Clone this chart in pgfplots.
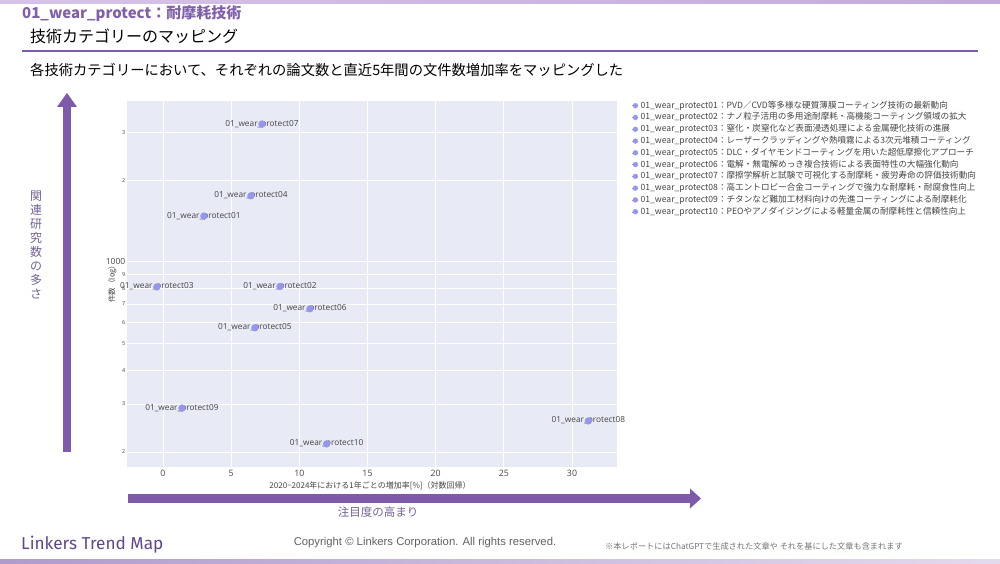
\documentclass[border=0pt]{standalone}
\usepackage{pgfplots}
\pgfplotsset{compat=1.18}
\usepackage{pgfplotstable}
\usepackage{fontspec}
\setmainfont{Noto Sans CJK JP}
\newfontfamily\os{Open Sans}
\newfontfamily\lib{Liberation Sans}
\newfontfamily\fira{Fira Sans}
\definecolor{purp}{RGB}{125,90,170}
\definecolor{titlepurp}{RGB}{128,96,168}
\definecolor{softpurp}{RGB}{115,98,150}
\definecolor{plotbg}{RGB}{232,234,246}
\definecolor{mk}{RGB}{150,150,238}
\definecolor{txt}{RGB}{68,68,68}
\definecolor{foot}{RGB}{95,70,140}

% x: growth rate [%], y: number of documents (log)
\pgfplotstableread{
x y label
3.0 1475 01\_wear\_protect01
8.58 812 01\_wear\_protect02
-0.45 809 01\_wear\_protect03
6.45 1750 01\_wear\_protect04
6.74 572 01\_wear\_protect05
10.78 672 01\_wear\_protect06
7.26 3215 01\_wear\_protect07
31.2 260 01\_wear\_protect08
1.39 290 01\_wear\_protect09
12.0 214 01\_wear\_protect10
}\pts

\begin{document}
\begin{tikzpicture}[x=1pt,y=1pt]
\useasboundingbox (0,0) rectangle (1000,563);

% slide frame
\shade[left color={rgb,255:red,215;green,195;blue,232}, right color={rgb,255:red,195;green,170;blue,220}] (0,559.5) rectangle (1000,563);
\shade[left color={rgb,255:red,175;green,155;blue,205}, right color={rgb,255:red,228;green,218;blue,238}] (0,0) rectangle (1000,4);
\node[anchor=west, inner sep=0pt, text=titlepurp, font=\fontsize{15}{16}\selectfont\bfseries] at (22,549.5) {01\_wear\_protect：耐摩耗技術};
\node[anchor=west, inner sep=0pt, font=\fontsize{16}{18}\selectfont] at (30,527) {技術カテゴリーのマッピング};
\draw[purp, line width=1.5pt] (22,512) -- (978,512);
\node[anchor=west, inner sep=0pt, font=\fontsize{14.3}{16}\selectfont] at (30,493) {各技術カテゴリーにおいて、それぞれの論文数と直近5年間の文件数増加率をマッピングした};

% arrows
\fill[purp] (63,111) rectangle (71,457);
\fill[purp] (57,456) -- (77,456) -- (67,470) -- cycle;
\fill[purp] (128,60) rectangle (691,69);
\fill[purp] (690,54.5) -- (690,74.5) -- (701,64.5) -- cycle;
\node[align=center, text=softpurp, font=\fontsize{12}{14}\selectfont] at (36,318) {関\\連\\研\\究\\数\\の\\多\\さ};
\node[text=softpurp, font=\fontsize{11.5}{13}\selectfont] at (378,51) {注目度の高まり};

% footer
\node[anchor=west, inner sep=0pt, text=foot, font=\fira\fontsize{17.2}{18}\selectfont] at (21,18) {Linkers Trend Map};
\node[inner sep=0pt, text=black!62, font=\lib\fontsize{11.3}{12}\selectfont] at (425,20) {Copyright © Linkers Corporation. All rights reserved.};
\node[anchor=west, inner sep=0pt, text=black!55, font=\fontsize{8.2}{9}\selectfont] at (605,17) {※本レポートにはChatGPTで生成された文章や それを基にした文章も含まれます};

\begin{axis}[
    at={(127pt,96pt)}, anchor=south west,
    width=490pt, height=366pt, scale only axis,
    xmin=-2.64, xmax=33.3,
    ymode=log, ymin=176, ymax=3908,
    axis background/.style={fill=plotbg},
    axis line style={draw=none},
    major tick length=0pt,
    grid=major, grid style={white, line width=0.8pt},
    xtick={0,5,...,30},
    ytick={200,300,400,500,600,700,800,900,1000,2000,3000},
    yticklabels={2,3,4,5,6,7,8,9,{\fontsize{8.5}{9}\selectfont 1000},2,3},
    /pgf/number format/assume math mode=true,
    xticklabel style={font=\os\fontsize{8.8}{9}\selectfont, text=txt},
    yticklabel style={font=\os\fontsize{5.5}{6}\selectfont, text=txt, inner sep=1.5pt},
    xlabel={2020−2024年における1年ごとの増加率[\%]（対数回帰）},
    xlabel style={at={(axis description cs:0.496,-0.052)}, anchor=center, font=\fontsize{8}{9}\selectfont, text=txt},
    ylabel={件数（log）},
    ylabel style={at={(axis description cs:-0.03,0.505)}, anchor=center, font=\fontsize{7.5}{8}\selectfont, text=txt},
    clip=false,
    legend style={at={(1.0306,1.0)}, anchor=north west, draw=none, fill=none,
        inner sep=0pt, row sep=2.78pt, column sep=2pt,
        font=\fontsize{8.6}{9}\selectfont, text=txt,
        nodes={text height=7pt, text depth=2pt, inner sep=0pt, anchor=west}},
    legend cell align=left,
    legend image code/.code={\path (-3pt,0pt) -- (3pt,0pt); \fill[mk] (0pt,0pt) circle (2.4pt);},
]
% labels first, markers on top
\addplot[forget plot, only marks, mark=*, mark size=0pt, draw=none,
    point meta=explicit symbolic, nodes near coords,
    nodes near coords style={anchor=center, font=\os\fontsize{8.3}{9}\selectfont, text=txt}]
    table[x=x, y=y, meta=label] {\pts};
\addplot[forget plot, color=mk, only marks, mark=*, mark size=3.4pt, mark options={draw=mk, fill=mk}]
    table[x=x, y=y] {\pts};

\addlegendimage{mk}\addlegendentry{01\_wear\_protect01：PVD／CVD等多様な硬質薄膜コーティング技術の最新動向}
\addlegendimage{mk}\addlegendentry{01\_wear\_protect02：ナノ粒子活用の多用途耐摩耗・高機能コーティング領域の拡大}
\addlegendimage{mk}\addlegendentry{01\_wear\_protect03：窒化・炭窒化など表面浸透処理による金属硬化技術の進展}
\addlegendimage{mk}\addlegendentry{01\_wear\_protect04：レーザークラッディングや熱噴霧による3次元堆積コーティング}
\addlegendimage{mk}\addlegendentry{01\_wear\_protect05：DLC・ダイヤモンドコーティングを用いた超低摩擦化アプローチ}
\addlegendimage{mk}\addlegendentry{01\_wear\_protect06：電解・無電解めっき複合技術による表面特性の大幅強化動向}
\addlegendimage{mk}\addlegendentry{01\_wear\_protect07：摩擦学解析と試験で可視化する耐摩耗・疲労寿命の評価技術動向}
\addlegendimage{mk}\addlegendentry{01\_wear\_protect08：高エントロピー合金コーティングで強力な耐摩耗・耐腐食性向上}
\addlegendimage{mk}\addlegendentry{01\_wear\_protect09：チタンなど難加工材料向けの先進コーティングによる耐摩耗化}
\addlegendimage{mk}\addlegendentry{01\_wear\_protect10：PEOやアノダイジングによる軽量金属の耐摩耗性と信頼性向上}
\end{axis}
\end{tikzpicture}
\end{document}
